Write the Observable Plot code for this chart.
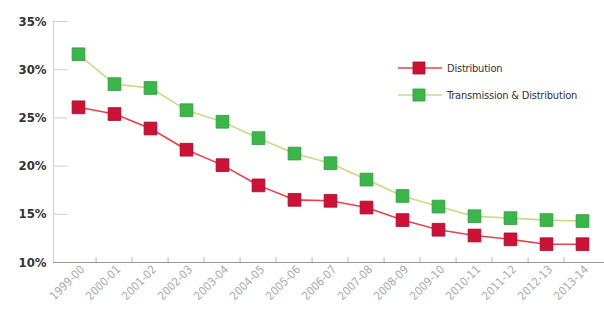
<!DOCTYPE html>
<html><head><meta charset="utf-8">
<script src="https://cdn.jsdelivr.net/npm/d3@7"></script>
<script src="https://cdn.jsdelivr.net/npm/@observablehq/plot@0.6"></script>
<style>
body{margin:0;background:#fff;}
#wrap{position:relative;width:604px;height:314px;font-family:"DejaVu Sans Condensed","DejaVu Sans",sans-serif;font-stretch:condensed;}
.leg{position:absolute;left:398px;font-size:11px;color:#333;display:flex;align-items:center;font-stretch:condensed;letter-spacing:-0.2px;}
.leg svg{margin-right:5px;}
</style></head><body>
<div id="wrap"></div>
<script>
const years = ["1999-00","2000-01","2001-02","2002-03","2003-04","2004-05","2005-06","2006-07","2007-08","2008-09","2009-10","2010-11","2011-12","2012-13","2013-14"];
const distribution = [26.1,25.4,23.9,21.7,20.1,18.0,16.5,16.4,15.7,14.4,13.4,12.8,12.4,11.9,11.9];
const transDist = [31.6,28.5,28.1,25.8,24.6,22.9,21.3,20.3,18.6,16.9,15.8,14.8,14.6,14.4,14.3];
const yTicks = [10,15,20,25,30,35];
const seriesNames = ["Distribution","Transmission & Distribution"];

const lineColors = ["#e5434d","#c8da86"];
const fillColors = ["#cc1236","#3cb64a"];
const strokeColors = ["#9e0d28","#2e9a3a"];

const rows = [];
years.forEach((y,i)=>{
  rows.push({year:y, value:transDist[i], s:1});
  rows.push({year:y, value:distribution[i], s:0});
});
const d0 = rows.filter(d=>d.s===0), d1 = rows.filter(d=>d.s===1);
const xRange = [53,606];
const step = (xRange[1]-xRange[0])/years.length;

const chart = Plot.plot({
  width:604, height:314,
  marginLeft:53, marginRight:0, marginTop:21, marginBottom:52,
  style:{fontFamily:'"DejaVu Sans Condensed","DejaVu Sans",sans-serif', fontStretch:"condensed", background:"#fff"},
  x:{type:"point", domain:years, padding:0.5, range:xRange},
  y:{domain:[10,35], ticks:yTicks},
  marks:[
    Plot.frame({anchor:"left", stroke:"#d0d0d0"}),
    Plot.axisY(yTicks, {tickSize:-15, tickFormat:()=>"", stroke:"#d0d0d0", label:null}),
    Plot.axisY(yTicks, {tickSize:0, tickPadding:7, tickFormat:d=>d+"%", fill:"#333", fontSize:13, fontWeight:"bold", label:null}),
    Plot.frame({anchor:"bottom", stroke:"#999"}),
    Plot.ruleX(years.slice(1), {x:d=>d, dx:-step/2, y1:10, y2:10.5, stroke:"#bbb"}),
    Plot.axisX({tickSize:0, tickRotate:-45, tickPadding:5, fill:"#aaa", fontSize:11.5, label:null, dx:4}),
    Plot.line(d1, {x:"year", y:"value", stroke:lineColors[1], strokeWidth:1.6}),
    Plot.line(d0, {x:"year", y:"value", stroke:lineColors[0], strokeWidth:1.6}),
    Plot.dot(d1, {x:"year", y:"value", symbol:"square", r:7.2, fill:fillColors[1], stroke:strokeColors[1], strokeWidth:0.8}),
    Plot.dot(d0, {x:"year", y:"value", symbol:"square", r:7.2, fill:fillColors[0], stroke:strokeColors[0], strokeWidth:0.8})
  ]
});
const wrap = document.getElementById("wrap");
wrap.appendChild(chart);

seriesNames.forEach((name,i)=>{
  const div = document.createElement("div");
  div.className = "leg";
  div.style.top = (i===0 ? 61 : 88) + "px";
  div.innerHTML = `<svg width="44" height="14"><line x1="0" y1="7" x2="44" y2="7" stroke="${lineColors[i]}" stroke-width="1.6"/><rect x="15" y="1" width="12" height="12" fill="${fillColors[i]}" stroke="${strokeColors[i]}" stroke-width="0.8"/></svg><span>${name}</span>`;
  wrap.appendChild(div);
});
</script>
</body></html>
